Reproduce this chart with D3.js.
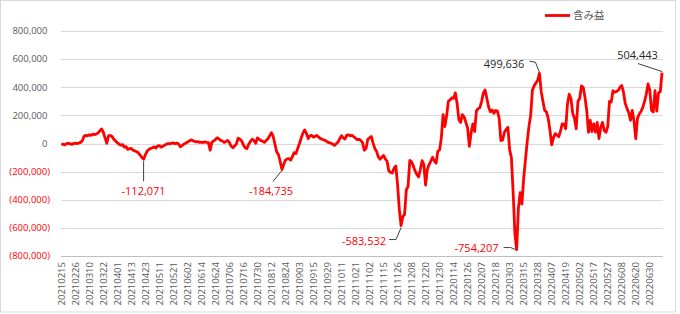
<!DOCTYPE html>
<html>
<head>
<meta charset="utf-8">
<script src="https://cdn.jsdelivr.net/npm/d3@7.9.0/dist/d3.min.js"></script>
<style>
  html, body { margin: 0; padding: 0; background: #fff; }
  svg { display: block; font-family: "Open Sans", "Noto Sans", sans-serif; }
</style>
</head>
<body>
<svg id="chart" width="680" height="314"></svg>
<script>
// x-axis labels (one every 8 trading days)
const tickLabels = ['20210215','20210226','20210310','20210322','20210401','20210413','20210423','20210511','20210521','20210602','20210614','20210624','20210706','20210716','20210730','20210812','20210824','20210903','20210915','20210929','20211011','20211021','20211102','20211115','20211126','20211208','20211220','20211230','20220114','20220126','20220207','20220218','20220303','20220315','20220328','20220407','20220419','20220502','20220517','20220527','20220608','20220620','20220630'];

// 含み益 per trading day, in thousands of yen
const profitK = [
  -2,-6,-10,-2,3,-3,-6,-1,2,0,
  3,8,20,52,58,55,62,58,66,63,
  68,75,90,104,80,40,2,55,58,50,
  30,18,5,-5,-12,-8,-26,-22,-42,-36,
  -35,-48,-52,-58,-66,-82,-100,-112.071,-80,-55,
  -42,-35,-30,-24,-32,-18,-15,-26,-20,-12,
  -6,0,-3,2,4,-1,3,-4,-24,-14,
  -4,2,10,16,26,22,15,12,14,8,
  10,7,11,8,6,-48,10,18,28,40,
  34,22,18,8,14,22,6,-18,-30,-18,
  -2,38,30,18,-10,-30,-36,-5,15,30,
  22,2,40,30,20,16,8,22,34,55,
  76,50,-5,-60,-78,-130,-184.735,-150,-118,-110,
  -108,-118,-92,-65,-72,-35,0,40,75,97,
  70,35,55,58,45,52,58,45,35,30,
  25,20,10,6,2,-5,-14,-2,10,35,
  55,40,32,60,62,55,58,48,38,28,
  30,22,5,-48,-36,30,40,50,5,-35,
  -55,-95,-112,-98,-85,-110,-125,-195,-205,-210,
  -175,-160,-290,-470,-583.532,-520,-505,-330,-305,-120,
  -130,-160,-195,-220,-238,-185,-122,-150,-295,-185,
  -150,-125,-98,-122,-140,-55,-45,40,205,120,
  195,300,310,325,322,360,285,170,150,205,
  190,150,110,-20,75,140,85,230,248,255,
  300,360,380,320,260,225,238,215,235,230,
  180,20,25,80,100,115,-45,-100,-350,-640,
  -754.207,-460,-350,-430,-250,-120,10,120,200,380,
  410,430,450,499.636,370,300,235,225,180,95,
  -10,40,70,60,48,85,140,138,105,280,
  350,320,215,180,105,300,320,410,400,330,
  235,80,165,85,140,80,150,35,115,150,
  92,80,120,300,295,375,365,370,378,400,
  412,365,285,248,220,165,235,160,35,180,
  210,228,255,300,350,424,380,235,225,375,230,360,368,504.443
];
const values = profitK.map(v => Math.round(v * 1000));

const yTicks = [800000, 600000, 400000, 200000, 0, -200000, -400000, -600000, -800000];
const seriesName = '含み益';

// labelled extremes: index into values, and where the label sits relative to the point
const callouts = [
  { i: 47,  dx: 0,   dy: 36,   anchor: 'middle', leader: [[0, 2], [0, 22]] },
  { i: 126, dx: -11, dy: 25.5, anchor: 'middle', leader: [[0, 1], [-9, 12]] },
  { i: 194, dx: -15, dy: 19.5, anchor: 'end',    leader: [[0, 2], [-5, 14], [-12, 14]] },
  { i: 260, dx: -18, dy: 2.5,  anchor: 'end',    leader: [[-1, 0], [-6, -2], [-13, -2]] },
  { i: 273, dx: -15, dy: -5.5, anchor: 'end',    leader: [[0, -1], [-4, -11], [-10, -12]] },
  { i: 343, dx: -24.5, dy: -13.3, anchor: 'middle', leader: [[0, -1], [-24, -9]] }
];

const svg = d3.select('#chart');
const plotLeft = 60.4, plotRight = 662.9, plotTop = 31, plotBottom = 256;

const x = d3.scalePoint()
  .domain(d3.range(values.length))
  .range([plotLeft, plotRight])
  .padding(0.5);

const y = d3.scaleLinear()
  .domain([-800000, 800000])
  .range([plotBottom, plotTop]);

// chart area border
svg.append('rect')
  .attr('x', 0.5).attr('y', 0.5)
  .attr('width', 675).attr('height', 311.5)
  .attr('fill', 'none')
  .attr('stroke', '#d9d9d9');

// gridlines
svg.append('g')
  .selectAll('line')
  .data(yTicks)
  .join('line')
  .attr('x1', 61).attr('x2', 663)
  .attr('y1', d => Math.round(y(d)) + 0.5)
  .attr('y2', d => Math.round(y(d)) + 0.5)
  .attr('stroke', d => d === -800000 ? '#bfbfbf' : '#d9d9d9')
  .attr('stroke-width', 1);

// plain hyphen for negatives, like Excel
const fmt = d3.formatLocale({ decimal: '.', thousands: ',', grouping: [3], currency: ['', ''], minus: '-' }).format(',');

// y labels: negatives in red with parentheses
svg.append('g')
  .selectAll('text')
  .data(yTicks)
  .join('text')
  .attr('x', d => d < 0 ? 50 : 47.5)
  .attr('y', d => y(d))
  .attr('dy', '0.35em')
  .attr('text-anchor', 'end')
  .attr('font-size', 9.5)
  .attr('fill', d => d < 0 ? '#ff0000' : '#595959')
  .text(d => d < 0 ? `(${fmt(-d)})` : fmt(d));

// x labels, rotated
svg.append('g')
  .selectAll('text')
  .data(tickLabels)
  .join('text')
  .attr('transform', (d, k) => `translate(${x(k * 8)},262) rotate(-90)`)
  .attr('dy', '0.35em')
  .attr('text-anchor', 'end')
  .attr('font-size', 9.5)
  .attr('fill', '#595959')
  .text(d => d);

// the series
const line = d3.line()
  .x((d, i) => x(i))
  .y(d => y(d));

svg.append('path')
  .datum(values)
  .attr('d', line)
  .attr('fill', 'none')
  .attr('stroke', '#ff0000')
  .attr('stroke-width', 2.8)
  .attr('stroke-linejoin', 'round');

// callouts
const cg = svg.append('g');
callouts.forEach(c => {
  const px = x(c.i), py = y(values[c.i]);
  cg.append('path')
    .attr('d', d3.line()(c.leader.map(([a, b]) => [px + a, py + b])))
    .attr('fill', 'none')
    .attr('stroke', '#404040')
    .attr('stroke-width', 1);
  cg.append('text')
    .attr('x', px + c.dx)
    .attr('y', py + c.dy)
    .attr('text-anchor', c.anchor)
    .attr('font-size', 11)
    .attr('fill', values[c.i] < 0 ? '#ff0000' : '#262626')
    .text(fmt(values[c.i]));
});

// legend
svg.append('line')
  .attr('x1', 545).attr('x2', 570)
  .attr('y1', 15.5).attr('y2', 15.5)
  .attr('stroke', '#ff0000')
  .attr('stroke-width', 2.8);
svg.append('text')
  .attr('x', 573).attr('y', 15.5)
  .attr('dy', '0.35em')
  .attr('font-size', 10.5)
  .attr('font-family', '"Noto Sans CJK JP", sans-serif')
  .attr('fill', '#595959')
  .text(seriesName);
</script>
</body>
</html>
